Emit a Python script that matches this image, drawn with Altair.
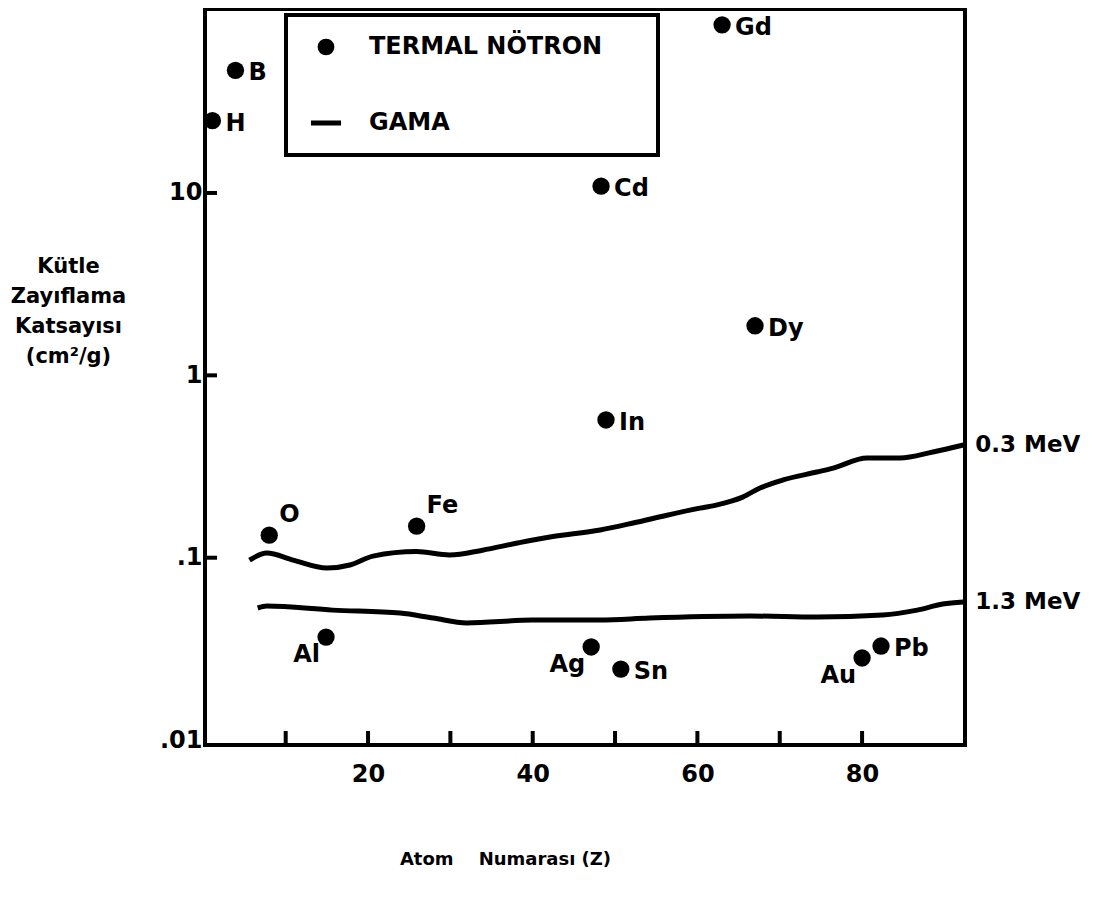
import altair as alt
import pandas as pd

# Thermal neutron mass attenuation coefficients (cm^2/g)
elements = ["H", "B", "O", "Al", "Fe", "Ag", "Cd", "In", "Sn", "Gd", "Dy", "Au", "Pb"]
z_pos = [1.1, 3.9, 8.0, 14.9, 25.9, 47.1, 48.3, 48.9, 50.7, 63.0, 67.0, 80.0, 82.3]
neutron_mu = [24.9, 47.0, 0.133, 0.0367, 0.149, 0.0324, 10.9, 0.569, 0.0245, 83.5, 1.87, 0.0282, 0.0328]

# Gamma curves
z_03 = [5.6, 7.7, 10.9, 15.0, 17.8, 20.6, 25.9, 29.9, 33.9, 38.0, 42.1, 48.2, 52.2,
        56.3, 60.3, 62.4, 65.5, 67.6, 70.4, 74.5, 76.5, 80.6, 84.6, 88.6, 92.3]
mu_03 = [0.097, 0.106, 0.097, 0.0877, 0.0912, 0.102, 0.108, 0.1035, 0.110, 0.120, 0.130,
         0.142, 0.155, 0.171, 0.187, 0.195, 0.215, 0.241, 0.267, 0.295, 0.310, 0.352,
         0.352, 0.380, 0.415]
z_13 = [6.6, 7.7, 15.7, 23.9, 27.9, 32.0, 40.0, 48.2, 54.2, 66.4, 74.5, 82.5, 86.7, 89.8, 92.3]
mu_13 = [0.053, 0.0543, 0.0516, 0.0497, 0.0467, 0.0439, 0.0455, 0.0455, 0.0467, 0.0479,
         0.0473, 0.0485, 0.0516, 0.0557, 0.0571]
energies = ["0.3 MeV", "1.3 MeV"]

x_tick_values = [10, 20, 30, 40, 50, 60, 70, 80]
x_label_values = [20, 40, 60, 80]
y_tick_values = [0.1, 1, 10]
y_label_values = [0.01, 0.1, 1, 10]

legend_names = ["TERMAL NÖTRON", "GAMA"]

right_labels = ["H", "B", "Cd", "In", "Gd", "Dy", "Sn", "Pb"]
upper_labels = ["O", "Fe"]
left_labels = ["Al", "Ag", "Au"]

FONT = "DejaVu Sans"
W, H = 760, 736

pts = pd.DataFrame({"el": elements, "z": z_pos, "mu": neutron_mu,
                    "kind": [legend_names[0]] * len(elements)})
gamma = pd.DataFrame({
    "z": z_03 + z_13,
    "mu": mu_03 + mu_13,
    "energy": [energies[0]] * len(z_03) + [energies[1]] * len(z_13),
})
ends = pd.DataFrame({"z": [z_03[-1], z_13[-1]], "mu": [mu_03[-1], mu_13[-1]], "energy": energies})

xscale = alt.Scale(domain=[0.2, 92.5], nice=False, zero=False)
yscale = alt.Scale(type="log", domain=[0.0094, 102], nice=False)

x_enc = alt.X("z:Q", scale=xscale,
              axis=alt.Axis(values=x_label_values, title="Atom\u00a0\u00a0\u00a0 Numarası (Z)",
                            ticks=False, domain=False, grid=False,
                            labelFont=FONT, labelFontSize=24, labelFontWeight="bold",
                            labelColor="black", labelPadding=17,
                            titleFont=FONT, titleFontSize=18, titleFontWeight="bold",
                            titleColor="black", titleX=300, titleY=114,
                            titleBaseline="middle", titleAlign="center"))
y_enc = alt.Y("mu:Q", scale=yscale,
              axis=alt.Axis(values=y_label_values,
                            labelExpr="datum.value >= 10 ? '10' : datum.value >= 1 ? '1' : datum.value >= 0.1 ? '.1' : '.01'",
                            title=["Kütle", "Zayıflama", "Katsayısı", "(cm²/g)"],
                            ticks=False, domain=False, grid=False,
                            labelFont=FONT, labelFontSize=24, labelFontWeight="bold",
                            labelColor="black", labelPadding=3,
                            titleFont=FONT, titleFontSize=21, titleFontWeight="bold",
                            titleColor="black", titleAngle=0, titleAlign="center",
                            titleBaseline="top", titleLineHeight=30,
                            titleX=-137, titleY=246))

points = alt.Chart(pts).mark_point(filled=True, size=300, color="black", opacity=1).encode(
    x=x_enc, y=y_enc,
    shape=alt.Shape("kind:N",
                    scale=alt.Scale(domain=legend_names,
                                    range=["circle", "M-1.8,-0.3L1.8,-0.3L1.8,0.3L-1.8,0.3Z"]),
                    legend=alt.Legend(title=None, orient="none", legendX=81, legendY=6,
                                      labelFont=FONT, labelFontSize=24, labelFontWeight="bold",
                                      labelColor="black", labelLimit=500,
                                      labelExpr="datum.label + '\u00a0\u00a0\u2800'",
                                      symbolSize=280, symbolStrokeWidth=0,
                                      symbolFillColor="black", symbolOffset=8,
                                      padding=20, rowPadding=52, labelOffset=31,
                                      strokeColor="black")),
)

lines = alt.Chart(gamma).mark_line(color="black", strokeWidth=5, interpolate="monotone").encode(
    x=alt.X("z:Q", scale=xscale), y=alt.Y("mu:Q", scale=yscale), detail="energy:N")

end_text = alt.Chart(ends).mark_text(align="left", baseline="middle", dx=12, font=FONT,
                                     fontSize=23, fontWeight="bold", color="black").encode(
    x=alt.X("z:Q", scale=xscale), y=alt.Y("mu:Q", scale=yscale), text="energy:N")

def label_layer(names, **kw):
    return alt.Chart(pts).transform_filter(
        alt.FieldOneOfPredicate(field="el", oneOf=names)
    ).mark_text(font=FONT, fontSize=24, fontWeight="bold", color="black", **kw).encode(
        x=alt.X("z:Q", scale=xscale), y=alt.Y("mu:Q", scale=yscale), text="el:N")

lab_r = label_layer(right_labels, align="left", baseline="middle", dx=13, dy=3)
lab_u = label_layer(upper_labels, align="left", baseline="middle", dx=10, dy=-20)
lab_l = label_layer(left_labels, align="right", baseline="middle", dx=-6, dy=18)

xt = alt.Chart(pd.DataFrame({"v": x_tick_values})).mark_rule(color="black", strokeWidth=4).encode(
    x=alt.X("v:Q", scale=xscale), y=alt.value(H), y2=alt.value(H - 14))
yt = alt.Chart(pd.DataFrame({"v": y_tick_values})).mark_rule(color="black", strokeWidth=4).encode(
    y=alt.Y("v:Q", scale=yscale), x=alt.value(0), x2=alt.value(12))

chart = alt.layer(lines, points, end_text, lab_r, lab_u, lab_l, xt, yt).properties(
    width=W, height=H, autosize="none",
    padding={"left": 197, "top": 1, "right": 125, "bottom": 140},
    background="white",
).configure_view(stroke="black", strokeWidth=4).configure_legend(strokeWidth=4)

chart.save("out.html", embed_options={"renderer": "svg", "actions": False})
